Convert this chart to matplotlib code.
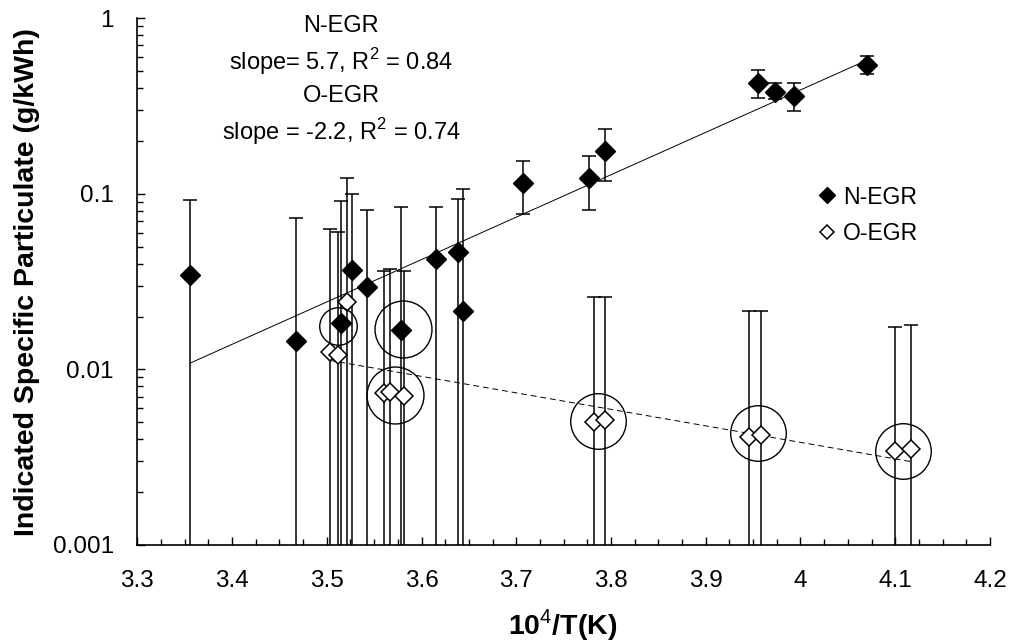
import numpy as np
import matplotlib
matplotlib.use("Agg")
import matplotlib.pyplot as plt
from matplotlib.ticker import MultipleLocator, LogLocator, FuncFormatter

plt.rcParams['font.family'] = ['Liberation Sans', 'DejaVu Sans']
plt.rcParams['mathtext.fontset'] = 'custom'
plt.rcParams['mathtext.rm'] = 'Liberation Sans'
plt.rcParams['mathtext.bf'] = 'Liberation Sans:bold'

# N-EGR points (value, upper / lower end of error bar)
n_x = [3.356, 3.467, 3.515, 3.527, 3.542, 3.578, 3.615, 3.638, 3.644,
       3.707, 3.777, 3.794, 3.955, 3.973, 3.993, 4.070]
n_y = [0.0344, 0.0145, 0.0184, 0.0368, 0.0295, 0.0167, 0.0423, 0.0468, 0.0216,
       0.116, 0.1226, 0.176, 0.43, 0.382, 0.361, 0.542]
n_hi = [0.092, 0.0724, 0.0913, 0.0997, 0.0809, 0.0845, 0.0845, 0.0934, 0.107,
        0.154, 0.164, 0.234, 0.507, 0.426, 0.43, 0.61]
n_lo = [1e-5, 1e-5, 1e-5, 1e-5, 1e-5, 1e-5, 1e-5, 1e-5, 1e-5,
        0.0764, 0.081, 0.118, 0.35, 0.345, 0.298, 0.48]

# O-EGR points
o_x = [3.503, 3.512, 3.521, 3.560, 3.567, 3.581, 3.782, 3.794, 3.946, 3.958, 4.100, 4.117]
o_y = [0.0126, 0.0121, 0.0243, 0.0073, 0.00745, 0.00705, 0.00503, 0.00515,
       0.00413, 0.00423, 0.00344, 0.0035]
o_hi = [0.063, 0.0604, 0.1226, 0.0365, 0.0371, 0.0365, 0.026, 0.026,
        0.0215, 0.0215, 0.0175, 0.0178]
o_lo = [1e-5] * 12

# circled groups (centre, marker size in points)
circ_x = [3.512, 3.580, 3.572, 3.786, 3.955, 4.108]
circ_y = [0.01765, 0.0169, 0.00714, 0.00509, 0.00432, 0.00344]
circ_s = [27, 41, 41, 40, 40, 40]

note_lines = ['N-EGR', 'slope= 5.7, R$^2$ = 0.84', 'O-EGR', 'slope = -2.2, R$^2$ = 0.74']

fig = plt.figure(figsize=(10.14, 6.41), dpi=100)
ax = fig.add_axes([0.1354, 0.1498, 0.8409, 0.8217])
ax.set_yscale('log')

def draw_bars(x, y, lo, hi):
    x = np.array(x); y = np.array(y)
    yerr = [y - np.array(lo), np.array(hi) - y]
    ax.errorbar(x, y, yerr=yerr, fmt='none', ecolor='black', elinewidth=1.1,
                capsize=5, capthick=1.1, zorder=2)

draw_bars(n_x, n_y, n_lo, n_hi)
draw_bars(o_x, o_y, o_lo, o_hi)

# exponential trend lines fitted to each series
for xs, ys, ls in [(n_x, n_y, '-'), (o_x, o_y, (0, (6, 4)))]:
    b, a = np.polyfit(xs, np.log(ys), 1)
    xx = np.linspace(min(xs), max(xs), 50)
    ax.plot(xx, np.exp(a + b * xx), color='black', lw=0.7, ls=ls, zorder=3)

ax.plot(n_x, n_y, 'D', ms=10.3, mfc='black', mec='black', ls='none', zorder=4, label='N-EGR')
ax.plot(o_x, o_y, 'D', ms=9.0, mfc='white', mec='black', mew=1.1, ls='none', zorder=4, label='O-EGR')

for cx, cy, cs in zip(circ_x, circ_y, circ_s):
    ax.plot(cx, cy, 'o', ms=cs, mfc='none', mec='black', mew=1.0, zorder=5)

ax.set_xlim(3.3, 4.2)
ax.set_ylim(0.001, 1)
ax.xaxis.set_major_locator(MultipleLocator(0.1))
ax.xaxis.set_minor_locator(MultipleLocator(0.025))
ax.xaxis.set_major_formatter(FuncFormatter(lambda v, p: f'{v:g}'))
ax.yaxis.set_major_locator(LogLocator(base=10, numticks=10))
ax.yaxis.set_minor_locator(LogLocator(base=10, subs=np.arange(2, 10), numticks=10))
ax.yaxis.set_major_formatter(FuncFormatter(lambda v, p: f'{v:g}'))
ax.yaxis.set_minor_formatter(FuncFormatter(lambda v, p: ''))

ax.tick_params(which='both', direction='in', labelsize=17.5, width=1.0)
ax.tick_params(which='major', length=6)
ax.tick_params(which='minor', length=4)
ax.tick_params(axis='x', which='major', pad=18)
ax.tick_params(axis='y', which='major', pad=17)
for s in ['top', 'right']:
    ax.spines[s].set_visible(False)
for s in ['left', 'bottom']:
    ax.spines[s].set_linewidth(1.2)

ax.set_xlabel('10$^4$/T(K)', fontsize=20.5, fontweight='bold')
ax.set_ylabel('Indicated Specific Particulate (g/kWh)', fontsize=20.5, fontweight='bold')
ax.xaxis.set_label_coords(0.499, -0.118)
ax.yaxis.set_label_coords(-0.114, 0.5)

for i, line in enumerate(note_lines):
    fig.text(341 / 1014, 1 - (26 + 35.2 * i) / 641, line, ha='center', va='center', fontsize=17)

ax.legend(loc='upper left', bbox_to_anchor=(0.787, 0.700), frameon=False, fontsize=16.6,
          handlelength=0.8, handletextpad=0.3, labelspacing=0.6, markerscale=0.8,
          borderaxespad=0.0)

fig.savefig('out.png', dpi=100)
